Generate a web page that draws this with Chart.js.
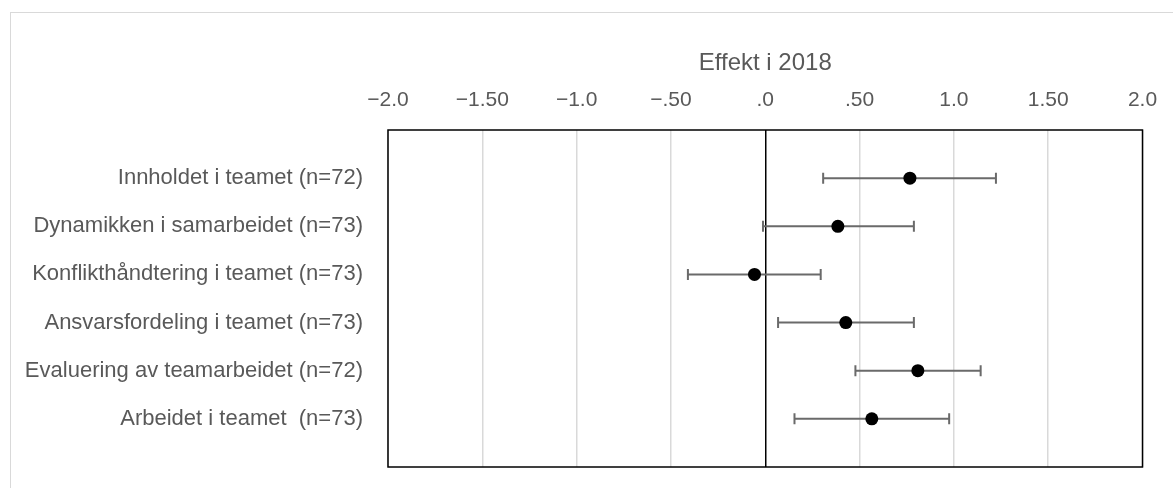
<!DOCTYPE html>
<html>
<head>
<meta charset="utf-8">
<script src="https://cdn.jsdelivr.net/npm/chart.js@4/dist/chart.umd.min.js"></script>
<style>
  html, body { margin: 0; padding: 0; background: #fff; }
  #frame { position: absolute; left: 10px; top: 12px; width: 1200px; height: 520px; border: 1.5px solid #d9d9d9; box-sizing: border-box; }
  #wrap { position: absolute; left: 0; top: 0; width: 1173px; height: 488px; }
</style>
</head>
<body>
<div id="frame"></div>
<div id="wrap"><canvas id="effektChart" width="1173" height="488"></canvas></div>
<script>
// data
const categories = [
  "Innholdet i teamet (n=72)",
  "Dynamikken i samarbeidet (n=73)",
  "Konflikthåndtering i teamet (n=73)",
  "Ansvarsfordeling i teamet (n=73)",
  "Evaluering av teamarbeidet (n=72)",
  "Arbeidet i teamet  (n=73)"
];
const means = [0.767, 0.385, -0.057, 0.427, 0.809, 0.565];
const lower = [0.307, -0.012, -0.410, 0.068, 0.478, 0.155];
const upper = [1.223, 0.788, 0.294, 0.788, 1.142, 0.975];
const xTickLabels = ["−2.0", "−1.50", "−1.0", "−.50", ".0", ".50", "1.0", "1.50", "2.0"];

const textColor = "#595959";
const barColor = "#6a6a6a";

const datasets = [{
  type: "scatter",
  label: "Effekt",
  data: means.map((m, i) => ({ x: m, y: i + 1 })),
  pointRadius: 6.5,
  pointBackgroundColor: "#000",
  pointBorderWidth: 0
}];

categories.forEach((c, i) => {
  datasets.push({
    type: "line",
    label: c,
    data: [{ x: lower[i], y: i + 1 }, { x: upper[i], y: i + 1 }],
    borderColor: barColor,
    borderWidth: 2,
    pointStyle: "line",
    rotation: 90,
    pointRadius: 5.5,
    pointBorderColor: barColor,
    pointBorderWidth: 2,
    fill: false
  });
});

const boxPlugin = {
  id: "box",
  afterDraw(chart) {
    const a = chart.chartArea;
    const ctx = chart.ctx;
    ctx.save();
    ctx.strokeStyle = "#000";
    ctx.lineWidth = 1.5;
    ctx.strokeRect(a.left, a.top, a.right - a.left, a.bottom - a.top);
    ctx.restore();
  }
};

Chart.defaults.font.family = "'Liberation Sans', Arial, sans-serif";

new Chart(document.getElementById("effektChart").getContext("2d"), {
  data: { datasets },
  options: {
    responsive: false,
    animation: false,
    layout: { padding: { left: 0, top: 0, right: 30.5, bottom: 21 } },
    plugins: { legend: { display: false }, tooltip: { enabled: false } },
    scales: {
      x: {
        type: "linear",
        position: "top",
        min: -2,
        max: 2,
        afterFit: s => { s.height = 130; s.paddingLeft = 0; s.paddingRight = 0; },
        ticks: {
          stepSize: 0.5,
          color: textColor,
          font: { size: 21 },
          padding: 17,
          callback: (v, i) => xTickLabels[i]
        },
        grid: {
          drawTicks: false,
          color: c => (c.tick && c.tick.value === 0 ? "#000" : "#d9d9d9"),
          lineWidth: 1.5
        },
        border: { display: false },
        title: {
          display: true,
          text: "Effekt i 2018",
          color: textColor,
          font: { size: 24 },
          padding: { top: 49, bottom: 0 }
        }
      },
      y: {
        type: "linear",
        min: 0,
        max: 7,
        reverse: true,
        afterFit: s => { s.width = 388; s.paddingTop = 0; s.paddingBottom = 0; },
        afterBuildTicks: s => { s.ticks = categories.map((c, i) => ({ value: i + 1 })); },
        ticks: {
          color: textColor,
          font: { size: 22 },
          padding: 25,
          callback: v => categories[v - 1]
        },
        grid: { display: false, drawTicks: false },
        border: { display: false }
      }
    }
  },
  plugins: [boxPlugin]
});
</script>
</body>
</html>
